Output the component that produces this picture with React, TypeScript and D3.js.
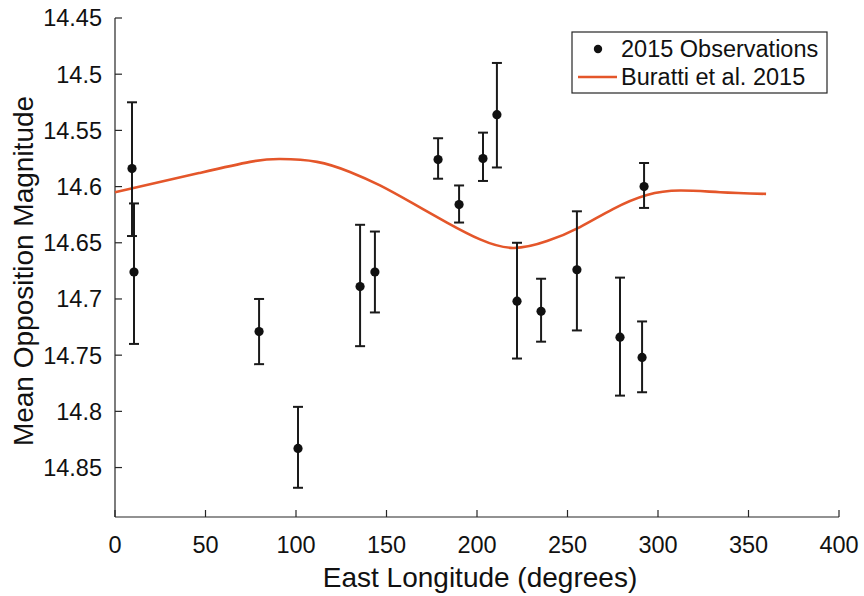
import React from "react";
import * as d3 from "d3";

const obsLon = [9.4, 10.5, 79.6, 101.1, 135.4, 143.6, 178.5, 190.1, 203.3, 211.0, 222.1, 235.4, 255.2, 279.0, 291.2, 292.3];
const obsMag = [14.584, 14.676, 14.729, 14.833, 14.689, 14.676, 14.576, 14.616, 14.575, 14.536, 14.702, 14.711, 14.674, 14.734, 14.752, 14.600];
const obsLow = [14.525, 14.615, 14.700, 14.796, 14.634, 14.640, 14.557, 14.599, 14.552, 14.490, 14.650, 14.682, 14.622, 14.681, 14.720, 14.579];
const obsHigh = [14.644, 14.740, 14.758, 14.868, 14.742, 14.712, 14.593, 14.632, 14.595, 14.583, 14.753, 14.738, 14.728, 14.786, 14.783, 14.619];

const modelLon = [0, 19.3, 46.4, 74.6, 91.2, 111.6, 129.8, 146.4, 164.6, 183.4, 201.7, 219.9, 238.7, 256.9, 275.1, 293.9, 312.2, 334.3, 359.7];
const modelMag = [14.605, 14.598, 14.588, 14.578, 14.5755, 14.578, 14.587, 14.599, 14.615, 14.632, 14.647, 14.6546, 14.6485, 14.636, 14.620, 14.6075, 14.6035, 14.605, 14.6065];

const xTicks = [0, 50, 100, 150, 200, 250, 300, 350, 400];
const yTicks = [14.45, 14.5, 14.55, 14.6, 14.65, 14.7, 14.75, 14.8, 14.85];

const W = 864;
const H = 596;
const AX = "#262626";
const ORANGE = "#E4562A";
const FONT = "'Liberation Sans', Arial, Helvetica, sans-serif";

export default function App() {
  const x = d3.scaleLinear().domain([0, 400]).range([115, 839]);
  const y = d3.scaleLinear().domain([14.45, 14.894]).range([18, 517]);
  const [x0, x1] = x.range();
  const [yTop, yBot] = y.range();

  const line = d3
    .line<number>()
    .x((_, i) => x(modelLon[i]))
    .y((d) => y(d))
    .curve(d3.curveNatural);

  const cap = 5;
  const tick = 7;

  return (
    <svg
      width={W}
      height={H}
      viewBox={`0 0 ${W} ${H}`}
      style={{ position: "absolute", left: 0, top: 0, background: "#fff" }}
      fontFamily={FONT}
    >
      <rect x={0} y={0} width={W} height={H} fill="#fff" />
      <line x1={x0} x2={x0} y1={yTop} y2={yBot} stroke={AX} strokeWidth={1.2} />
      <line x1={x0} x2={x1} y1={yBot} y2={yBot} stroke={AX} strokeWidth={1.2} />
      {xTicks.map((t) => (
        <g key={"xt" + t}>
          <line x1={x(t)} x2={x(t)} y1={yBot} y2={yBot - tick} stroke={AX} strokeWidth={1.2} />
          <text x={x(t)} y={553} textAnchor="middle" fontSize={23.5} fill="#111">
            {String(t)}
          </text>
        </g>
      ))}
      {yTicks.map((t) => (
        <g key={"yt" + t}>
          <line x1={x0} x2={x0 + tick} y1={y(t)} y2={y(t)} stroke={AX} strokeWidth={1.2} />
          <text x={102} y={y(t)} dy="0.36em" textAnchor="end" fontSize={23.5} fill="#111">
            {d3.format("~g")(t)}
          </text>
        </g>
      ))}
      <text x={(x0 + x1) / 2 + 3} y={587} textAnchor="middle" fontSize={28} fill="#111">
        East Longitude (degrees)
      </text>
      <text
        transform={`translate(33, 271) rotate(-90)`}
        textAnchor="middle"
        fontSize={28}
        fill="#111"
      >
        Mean Opposition Magnitude
      </text>

      <path d={line(modelMag) || ""} fill="none" stroke={ORANGE} strokeWidth={2.6} />

      {obsLon.map((lon, i) => (
        <g key={"o" + i} stroke="#1a1a1a" strokeWidth={2}>
          <line x1={x(lon)} x2={x(lon)} y1={y(obsLow[i])} y2={y(obsHigh[i])} />
          <line x1={x(lon) - cap} x2={x(lon) + cap} y1={y(obsLow[i])} y2={y(obsLow[i])} />
          <line x1={x(lon) - cap} x2={x(lon) + cap} y1={y(obsHigh[i])} y2={y(obsHigh[i])} />
          <circle cx={x(lon)} cy={y(obsMag[i])} r={4.6} fill="#111" stroke="none" />
        </g>
      ))}

      <rect x={572} y={32} width={255} height={61} fill="#fff" stroke={AX} strokeWidth={1.2} />
      <circle cx={598} cy={49} r={4.2} fill="#111" />
      <text x={621} y={57} fontSize={23.5} fill="#111">2015 Observations</text>
      <line x1={578} x2={617} y1={77} y2={77} stroke={ORANGE} strokeWidth={2.6} />
      <text x={621} y={85} fontSize={23.5} fill="#111">Buratti et al. 2015</text>
    </svg>
  );
}
